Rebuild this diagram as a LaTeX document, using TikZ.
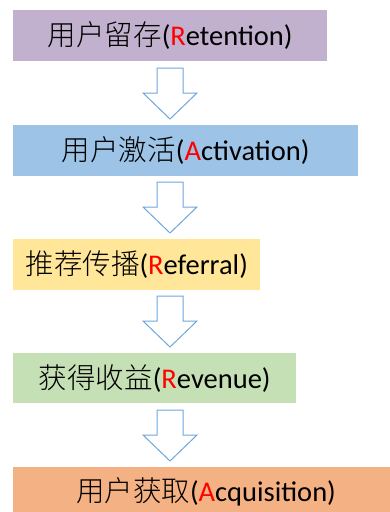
\documentclass[tikz,border=0pt]{standalone}
\usepackage{fontspec}
\setmainfont{Carlito}
\newfontfamily\cjk{Noto Sans CJK SC}[UprightFont={* Light}]
\definecolor{cpurple}{HTML}{C1B1CE}
\definecolor{cblue}{HTML}{9DC3E6}
\definecolor{cyellow}{HTML}{FFE699}
\definecolor{cgreen}{HTML}{C5E0B4}
\definecolor{corange}{HTML}{F4B183}
\definecolor{carrow}{HTML}{6FA6DC}
\definecolor{cred}{HTML}{FF0000}
\newcommand{\lt}[1]{\textcolor{cred}{#1}}
\begin{document}
\begin{tikzpicture}[x=1pt,y=-1pt,
  stage/.style={fill=#1, draw=none, inner sep=0pt, anchor=north west},
  stagetext/.style={font=\fontsize{28.5}{30}\selectfont, text=black, inner sep=0pt},
  downarrow/.pic={
    \draw[carrow, line width=1pt, fill=white, line join=miter]
      (-13,0) -- (13,0) -- (13,25) -- (27,25) -- (0,51) -- (-27,25) -- (-13,25) -- cycle;
    \coordinate (-tip) at (0,51);
  }]
\useasboundingbox (0,0) rectangle (390,512);
% boxes
\node[stage=cpurple, minimum width=314pt, minimum height=51pt] (b1) at (13,10) {};
\node[stage=cblue, minimum width=345pt, minimum height=51pt] (b2) at (13,125) {};
\node[stage=cyellow, minimum width=247pt, minimum height=51pt] (b3) at (13,239) {};
\node[stage=cgreen, minimum width=283pt, minimum height=50pt] (b4) at (13,353) {};
\node[stage=corange, minimum width=390pt, minimum height=50pt] (b5) at (13,467) {};
% texts
\node[stagetext] (t1) at (b1.center) {{\cjk 用户留存}(\lt{R}etention)};
\node[stagetext] (t2) at (b2.center) {{\cjk 用户激活}(\lt{A}ctivation)};
\node[stagetext] (t3) at (b3.center) {{\cjk 推荐传播}(\lt{R}eferral)};
\node[stagetext] (t4) at (b4.center) {{\cjk 获得收益}(\lt{R}evenue)};
\node[stagetext, anchor=center] (t5) at (206,492) {{\cjk 用户获取}(\lt{A}cquisition)};
% arrows
\pic (a1) at (170,68) {downarrow};
\pic (a2) at (170,182) {downarrow};
\pic (a3) at (170,296) {downarrow};
\pic (a4) at (170,410) {downarrow};
\end{tikzpicture}
\end{document}
